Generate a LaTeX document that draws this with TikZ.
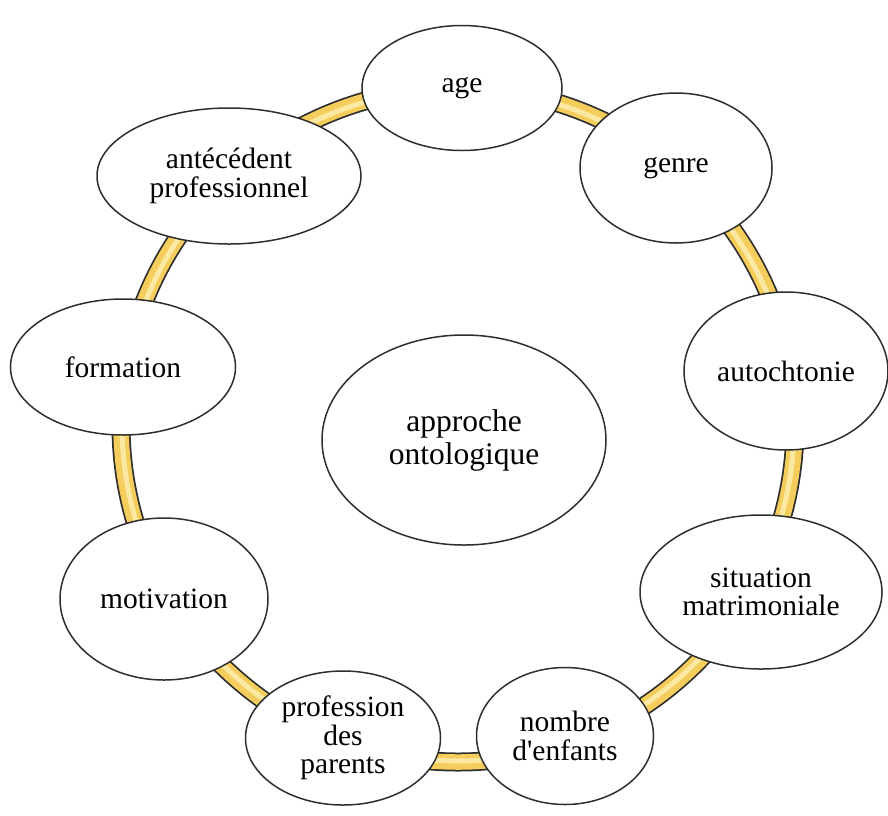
\documentclass[tikz,border=0pt]{standalone}
\usepackage{fontspec}
\setmainfont{Liberation Serif}
\usetikzlibrary{shapes.geometric}
\definecolor{ringgold}{HTML}{F4CD5C}
\definecolor{ringlight}{HTML}{FBE9A3}
\definecolor{edge}{HTML}{2E2E2E}
\tikzset{
  bubble/.style={ellipse, draw=edge, line width=1.5pt, fill=white, inner sep=0pt,
    align=center, font=\fontsize{29.5}{28.5}\selectfont},
}
\begin{document}
\begin{tikzpicture}[x=1pt,y=-1pt]
\useasboundingbox (0,0) rectangle (888,815);
\coordinate (rc) at (458,425);
\draw[edge, line width=19pt] (rc) circle (337);
\draw[ringgold, line width=15.5pt] (rc) circle (337);
\draw[ringlight, line width=5pt] (rc) circle (336);
\node[bubble, minimum width=200pt, minimum height=125pt] (age) at (462,88) {age};
\node[bubble, minimum width=192pt, minimum height=150pt] (genre) at (676,168) {genre};
\node[bubble, minimum width=204pt, minimum height=158pt] (auto) at (786,371) {autochtonie};
\node[bubble, minimum width=242pt, minimum height=154pt] (sit) at (761,592) {situation\\matrimoniale};
\node[bubble, minimum width=177pt, minimum height=137pt] (nomb) at (565,736) {nombre\\d\textquotesingle enfants};
\node[bubble, minimum width=195pt, minimum height=134pt] (prof) at (343,738) {profession\\des\\parents};
\node[bubble, minimum width=208pt, minimum height=162pt] (moti) at (164,599) {motivation};
\node[bubble, minimum width=225pt, minimum height=136pt] (form) at (123,367) {formation};
\node[bubble, minimum width=264pt, minimum height=136pt] (ante) at (229,176) {antécédent\\professionnel};
\node[bubble, minimum width=284pt, minimum height=210pt, font=\fontsize{31.5}{33}\selectfont] (appr) at (464,440) {approche\\ontologique};
\end{tikzpicture}
\end{document}
